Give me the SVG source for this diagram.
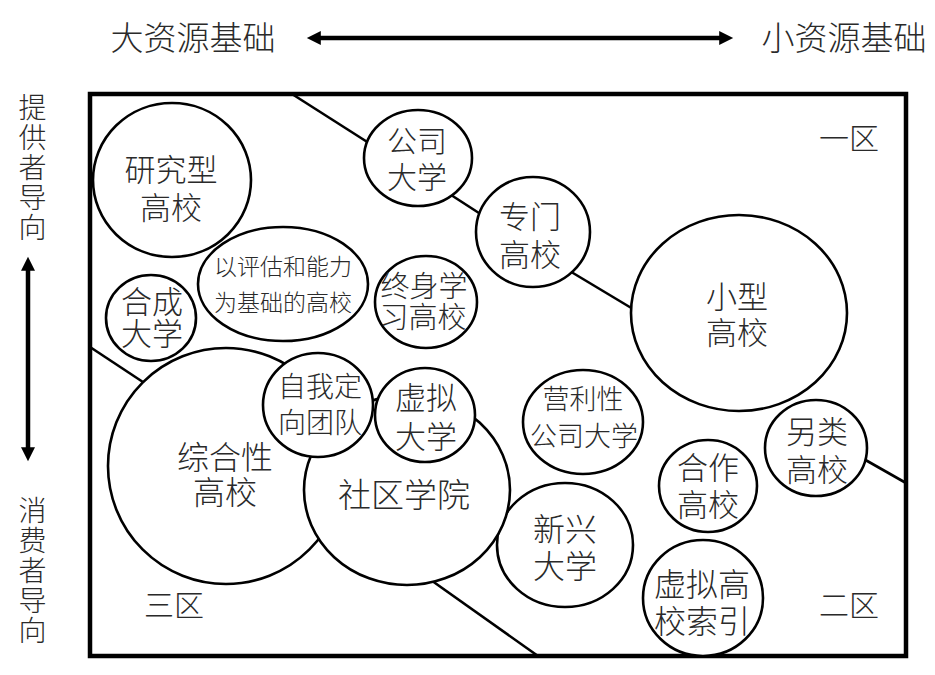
<svg xmlns="http://www.w3.org/2000/svg" width="935" height="675" viewBox="0 0 935 675">
<style>
.n{fill:#fff;stroke:#000;stroke-width:2.6}
.t{font-family:"Liberation Sans","Noto Sans CJK SC",sans-serif;font-weight:300;fill:#2a2a2a;text-anchor:middle;dominant-baseline:central}
.v{font-family:"Liberation Sans","Noto Sans CJK SC",sans-serif;font-weight:300;fill:#2a2a2a;text-anchor:middle;writing-mode:vertical-rl;letter-spacing:2px}
.c{stroke:#000;stroke-width:2.6;fill:none}
.ax{stroke:#000;stroke-width:4.5;fill:none}
</style>
<defs>
<marker id="ah" viewBox="0 0 10 10" refX="2" refY="5" markerWidth="15" markerHeight="14" markerUnits="userSpaceOnUse" orient="auto-start-reverse">
<path d="M0,0 L10,5 L0,10 Z" fill="#000"/>
</marker>
</defs>
<rect width="935" height="675" fill="#fff"/>
<g id="axes">
<text class="t" x="193" y="38" font-size="33">大资源基础</text>
<text class="t" x="844" y="38" font-size="33">小资源基础</text>
<line class="ax" x1="318" y1="38" x2="722" y2="38" marker-start="url(#ah)" marker-end="url(#ah)"/>
<text class="v" x="30" y="168" font-size="28">提供者导向</text>
<line class="ax" x1="28" y1="268" x2="28" y2="450" marker-start="url(#ah)" marker-end="url(#ah)"/>
<text class="v" x="30" y="571" font-size="28">消费者导向</text>
</g>
<rect id="frame" x="90" y="94" width="816" height="562" fill="none" stroke="#000" stroke-width="4.5"/>
<g id="connectors">
<line class="c" x1="292" y1="94" x2="372" y2="145"/>
<line class="c" x1="448" y1="193" x2="482" y2="215"/>
<line class="c" x1="568" y1="270" x2="638" y2="312"/>
<line class="c" x1="862" y1="458" x2="906" y2="483"/>
<line class="c" x1="90" y1="347" x2="152" y2="388"/>
<line class="c" x1="428" y1="578" x2="538" y2="656"/>
</g>
<g id="zones">
<text class="t" x="849" y="138" font-size="30">一区</text>
<text class="t" x="849" y="605" font-size="30">二区</text>
<text class="t" x="174" y="605" font-size="30">三区</text>
</g>
<g id="research">
<ellipse class="n" cx="172" cy="180" rx="79" ry="77"/>
<text class="t" x="171" y="170" font-size="31">研究型</text>
<text class="t" x="171" y="208" font-size="31">高校</text>
</g>
<g id="assessment">
<ellipse class="n" cx="283" cy="284" rx="85" ry="57"/>
<text class="t" x="283" y="267" font-size="23">以评估和能力</text>
<text class="t" x="283" y="303" font-size="23">为基础的高校</text>
</g>
<g id="corporate">
<ellipse class="n" cx="418" cy="158" rx="54" ry="48"/>
<text class="t" x="417" y="141" font-size="30">公司</text>
<text class="t" x="417" y="177" font-size="30">大学</text>
</g>
<g id="synthetic">
<ellipse class="n" cx="151" cy="318" rx="45" ry="43"/>
<text class="t" x="152" y="302" font-size="31">合成</text>
<text class="t" x="152" y="334" font-size="31">大学</text>
</g>
<g id="lifelong">
<ellipse class="n" cx="426" cy="302" rx="51" ry="46"/>
<text class="t" x="424" y="287" font-size="29">终身学</text>
<text class="t" x="423" y="318" font-size="29">习高校</text>
</g>
<g id="specialized">
<ellipse class="n" cx="533" cy="232" rx="57" ry="55"/>
<text class="t" x="530" y="217" font-size="31">专门</text>
<text class="t" x="530" y="255" font-size="31">高校</text>
</g>
<g id="small">
<ellipse class="n" cx="739" cy="313" rx="108" ry="98"/>
<text class="t" x="737" y="297" font-size="31">小型</text>
<text class="t" x="737" y="333" font-size="31">高校</text>
</g>
<g id="alternative">
<ellipse class="n" cx="816" cy="448" rx="51" ry="48"/>
<text class="t" x="817" y="432" font-size="31">另类</text>
<text class="t" x="817" y="470" font-size="31">高校</text>
</g>
<g id="cooperative">
<ellipse class="n" cx="708" cy="486" rx="49" ry="46"/>
<text class="t" x="708" y="468" font-size="31">合作</text>
<text class="t" x="708" y="505" font-size="31">高校</text>
</g>
<g id="virtual-index">
<ellipse class="n" cx="703" cy="598" rx="60" ry="58"/>
<text class="t" x="702" y="585" font-size="32">虚拟高</text>
<text class="t" x="702" y="622" font-size="32">校索引</text>
</g>
<g id="for-profit">
<ellipse class="n" cx="583" cy="422" rx="60" ry="52"/>
<text class="t" x="583" y="400" font-size="27">营利性</text>
<text class="t" x="584" y="437" font-size="27">公司大学</text>
</g>
<g id="emerging">
<ellipse class="n" cx="565" cy="545" rx="68" ry="62"/>
<text class="t" x="565" y="530" font-size="32">新兴</text>
<text class="t" x="565" y="567" font-size="32">大学</text>
</g>
<g id="comprehensive">
<ellipse class="n" cx="226" cy="466" rx="118" ry="118"/>
<text class="t" x="225" y="458" font-size="32">综合性</text>
<text class="t" x="225" y="493" font-size="32">高校</text>
</g>
<g id="community">
<ellipse class="n" cx="407" cy="490" rx="103" ry="95"/>
<text class="t" x="404" y="495" font-size="33">社区学院</text>
</g>
<g id="self-directed">
<ellipse class="n" cx="318" cy="405" rx="55" ry="52"/>
<text class="t" x="320" y="387" font-size="28">自我定</text>
<text class="t" x="320" y="423" font-size="28">向团队</text>
</g>
<g id="virtual-university">
<ellipse class="n" cx="425" cy="415" rx="50" ry="47"/>
<text class="t" x="426" y="398" font-size="31">虚拟</text>
<text class="t" x="426" y="437" font-size="31">大学</text>
</g>
</svg>
